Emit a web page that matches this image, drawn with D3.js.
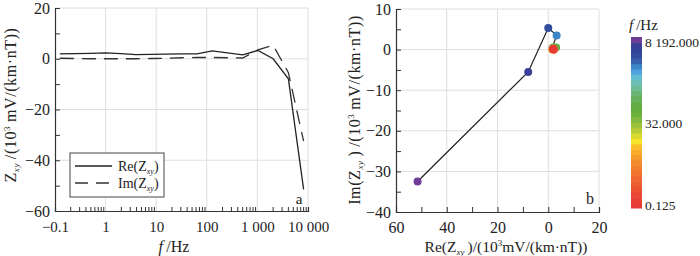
<!DOCTYPE html>
<html><head><meta charset="utf-8">
<script src="https://cdn.jsdelivr.net/npm/d3@7"></script>
<style>body{margin:0;background:#fff}svg{display:block}text{font-family:"Liberation Serif","Times New Roman",serif;fill:#222}</style>
</head><body><svg id="c" width="700" height="256"></svg>
<script>
const freqs = [0.125,0.25,0.5,1,2,4,8,16,32,64,128,256,512,1024,2048,4096,8192];
const reZ = [1.9,2.0,2.1,2.3,2.0,1.6,1.7,1.8,1.9,1.9,3.1,2.3,1.5,3.3,0.0,-7.9,-51.5];
const imZ = [0.2,0.1,0.0,0.0,0.0,0.0,0.1,0.2,0.4,0.5,0.5,0.4,0.3,3.5,5.3,-5.5,-32.5];
const xTickVals = [0.1,1,10,100,1000,10000];
const xTickLabels = ["\u22120.1","1","10","100","1 000","10 000"];
const yTicksA = [20,0,-20,-40,-60];
const xTicksB = [-60,-40,-20,0,20];
const xTickLabelsB = ["60","40","20","0","20"];
const yTicksB = [10,0,-10,-20,-30,-40];
const cbarColors = ["#e83a36","#e94035","#ea4834","#ec5232","#ed5c30","#ef672f","#f0722e","#f27e2d","#f48b2c","#f69a2b","#f9ab2a","#fbbf29","#f8e42a","#d9d92e","#b8cc34","#9dc239","#83b93c","#6eb23e","#64ae40","#62ad45","#65b05a","#6ab673","#6dbb95","#6cbfb4","#62bdd2","#4fa3dc","#3f86c8","#3561ad","#314c9c","#34439a","#3c3f98","#6e3d98"];
const cbarLabels = [[8192,"8 192.000"],[32,"32.000"],[0.125,"0.125"]];

const svg = d3.select("#c");
const axisColor = "#333", gridColor = "#e3dcdc";
const FS = 15;

// ---------- Chart a ----------
const xA = d3.scaleLog().domain([0.1,10000]).range([55,308]);
const yA = d3.scaleLinear().domain([-60,20]).range([211,8]);
const gA = svg.append("g");
gA.selectAll(".vg").data([1,10,100,1000,10000]).join("line")
  .attr("x1",d=>xA(d)).attr("x2",d=>xA(d)).attr("y1",yA(20)).attr("y2",yA(-60))
  .attr("stroke",gridColor).attr("stroke-width",1);
gA.selectAll(".hg").data([20,0,-20,-40]).join("line")
  .attr("x1",xA(0.1)).attr("x2",xA(10000)).attr("y1",d=>yA(d)).attr("y2",d=>yA(d))
  .attr("stroke",gridColor).attr("stroke-width",1);
const minorX = [];
for (let e=-1;e<4;e++) for (let k=2;k<=9;k++) minorX.push(k*Math.pow(10,e));
gA.append("g").attr("transform",`translate(0,${yA(-60)})`)
  .call(d3.axisBottom(xA).tickValues(minorX.concat([10000])).tickSize(-4).tickFormat(""))
  .call(g=>{g.select(".domain").attr("stroke",axisColor).attr("stroke-width",1.2);g.selectAll("line").attr("stroke",axisColor);});
gA.append("g").attr("transform",`translate(0,${yA(-60)})`)
  .call(d3.axisBottom(xA).tickValues(xTickVals).tickSize(0).tickPadding(10).tickFormat((d,i)=>xTickLabels[i]))
  .call(g=>{g.select(".domain").remove();g.selectAll("text").attr("font-size",FS).attr("font-family","Liberation Serif").attr("fill","#222");});
gA.append("g").attr("transform",`translate(${xA(0.1)},0)`)
  .call(d3.axisLeft(yA).tickValues(d3.range(-60,21,10)).tickSize(-5).tickFormat(""))
  .call(g=>{g.select(".domain").attr("stroke",axisColor).attr("stroke-width",1.2);g.selectAll("line").attr("stroke",axisColor);});
gA.append("g").attr("transform",`translate(${xA(0.1)},0)`)
  .call(d3.axisLeft(yA).tickValues(yTicksA).tickSize(0).tickPadding(5).tickFormat(d=>d<0?"\u2212"+(-d):d))
  .call(g=>{g.select(".domain").remove();g.selectAll("text").attr("font-size",FS+1).attr("font-family","Liberation Serif").attr("fill","#222");});
const lineA = (vals)=>d3.line().x((d,i)=>xA(freqs[i])).y(d=>yA(d))(vals);
gA.append("path").attr("d",lineA(imZ)).attr("fill","none").attr("stroke","#333").attr("stroke-width",1.3).attr("stroke-dasharray","14,8");
gA.append("path").attr("d",lineA(reZ)).attr("fill","none").attr("stroke","#222").attr("stroke-width",1.3);
const lg = gA.append("g");
lg.append("rect").attr("x",70).attr("y",153).attr("width",94).attr("height",44).attr("fill","#fff").attr("stroke","#444").attr("stroke-width",1);
lg.append("line").attr("x1",75).attr("x2",112).attr("y1",166).attr("y2",166).attr("stroke","#222").attr("stroke-width",1.3);
lg.append("line").attr("x1",75).attr("x2",112).attr("y1",183).attr("y2",183).attr("stroke","#333").attr("stroke-width",1.3).attr("stroke-dasharray","13,8");
function zLabel(t, x, y, pre){
  const tx = t.append("text").attr("x",x).attr("y",y).attr("font-size",14);
  tx.append("tspan").text(pre+"(Z");
  tx.append("tspan").attr("font-size",8).attr("font-style","italic").attr("dy",3).text("xy");
  tx.append("tspan").attr("dy",-3).text(")");
}
zLabel(lg,118,171,"Re");
zLabel(lg,118,188,"Im");
gA.append("text").attr("x",299).attr("y",204).attr("text-anchor","middle").attr("font-size",FS).text("a");
const xtA = gA.append("text").attr("x",174).attr("y",252).attr("text-anchor","middle").attr("font-size",16);
xtA.append("tspan").attr("font-style","italic").text("f");
xtA.append("tspan").text("\u2009/Hz");
function yTitle(g, x, y, pre){
  const t = g.append("text").attr("transform",`translate(${x},${y}) rotate(-90)`).attr("text-anchor","middle").attr("font-size",16).attr("letter-spacing",0.6);
  t.append("tspan").text(pre);
  t.append("tspan").attr("font-size",9).attr("font-style","italic").attr("dy",3).text("xy");
  t.append("tspan").attr("dy",-3).text(pre==="Z"?"\u2009/(10":"\u2009)\u2009/(10");
  t.append("tspan").attr("font-size",9).attr("dy",-6).text("3");
  t.append("tspan").attr("dy",6).text("\u2009mV/(km\u00b7nT))");
  return t;
}
yTitle(gA,16,105,"Z");

// ---------- Chart b ----------
const xB = d3.scaleLinear().domain([-60,20]).range([396,599]);
const yB = d3.scaleLinear().domain([-40,10]).range([212,9]);
const gB = svg.append("g");
gB.selectAll(".vg").data([-40,-20,0,20]).join("line")
  .attr("x1",d=>xB(d)).attr("x2",d=>xB(d)).attr("y1",yB(10)).attr("y2",yB(-40))
  .attr("stroke",gridColor);
gB.selectAll(".hg").data([10,0,-10,-20,-30]).join("line")
  .attr("x1",xB(-60)).attr("x2",xB(20)).attr("y1",d=>yB(d)).attr("y2",d=>yB(d))
  .attr("stroke",gridColor);
gB.append("g").attr("transform",`translate(0,${yB(-40)})`)
  .call(d3.axisBottom(xB).tickValues(d3.range(-60,21,10)).tickSize(-5).tickFormat(""))
  .call(g=>{g.select(".domain").attr("stroke",axisColor).attr("stroke-width",1.2);g.selectAll("line").attr("stroke",axisColor);});
gB.append("g").attr("transform",`translate(0,${yB(-40)})`)
  .call(d3.axisBottom(xB).tickValues(xTicksB).tickSize(0).tickPadding(10).tickFormat((d,i)=>xTickLabelsB[i]))
  .call(g=>{g.select(".domain").remove();g.selectAll("text").attr("font-size",FS+1).attr("font-family","Liberation Serif").attr("fill","#222");});
gB.append("g").attr("transform",`translate(${xB(-60)},0)`)
  .call(d3.axisLeft(yB).tickValues(d3.range(-40,11,5)).tickSize(-5).tickFormat(""))
  .call(g=>{g.select(".domain").attr("stroke",axisColor).attr("stroke-width",1.2);g.selectAll("line").attr("stroke",axisColor);});
gB.append("g").attr("transform",`translate(${xB(-60)},0)`)
  .call(d3.axisLeft(yB).tickValues(yTicksB).tickSize(0).tickPadding(5).tickFormat(d=>d<0?"\u2212"+(-d):d))
  .call(g=>{g.select(".domain").remove();g.selectAll("text").attr("font-size",FS+1).attr("font-family","Liberation Serif").attr("fill","#222");});
const cScale = d3.scaleLog().base(2).domain([0.125,8192]).range([0,1]);
const colorOf = f=>{const t=cScale(f);return cbarColors[Math.min(cbarColors.length-1,Math.floor(t*cbarColors.length))];};
const pts = freqs.map((f,i)=>({f,re:reZ[i],im:imZ[i]}));
gB.append("path").attr("d",d3.line().x(d=>xB(d.re)).y(d=>yB(d.im))(pts)).attr("fill","none").attr("stroke","#222").attr("stroke-width",1.2);
gB.selectAll("circle").data(pts.slice().reverse()).join("circle")
  .attr("cx",d=>xB(d.re)).attr("cy",d=>yB(d.im)).attr("r",4).attr("fill",d=>colorOf(d.f));
gB.append("text").attr("x",590).attr("y",204).attr("text-anchor","middle").attr("font-size",FS+1).text("b");
const xtB = gB.append("text").attr("x",506).attr("y",252).attr("text-anchor","middle").attr("font-size",15.5);
xtB.append("tspan").text("Re(Z");
xtB.append("tspan").attr("font-size",9).attr("font-style","italic").attr("dy",3).text("xy");
xtB.append("tspan").attr("dy",-3).text("\u2009)/(10");
xtB.append("tspan").attr("font-size",9).attr("dy",-6).text("3");
xtB.append("tspan").attr("dy",6).text("mV/(km\u00b7nT))");
yTitle(gB,360,110,"Im(Z");

const cbY = d3.scaleLinear().domain([0,cbarColors.length]).range([208,37]);
const cb = svg.append("g");
cb.selectAll("rect").data(cbarColors).join("rect")
  .attr("x",631).attr("width",11).attr("y",(d,i)=>cbY(i+1)).attr("height",(d,i)=>cbY(i)-cbY(i+1)+0.5).attr("fill",d=>d);
const cbLog = d3.scaleLog().base(2).domain([0.125,8192]).range([208,37]);
cb.selectAll("text.l").data(cbarLabels).join("text")
  .attr("x",645).attr("y",d=>Math.max(47,Math.min(210,cbLog(d[0])+5))).attr("font-size",13.5).text(d=>d[1]);
const ft = cb.append("text").attr("x",629).attr("y",30).attr("font-size",FS);
ft.append("tspan").attr("font-style","italic").text("f");
ft.append("tspan").text("\u2009/Hz");
</script></body></html>
